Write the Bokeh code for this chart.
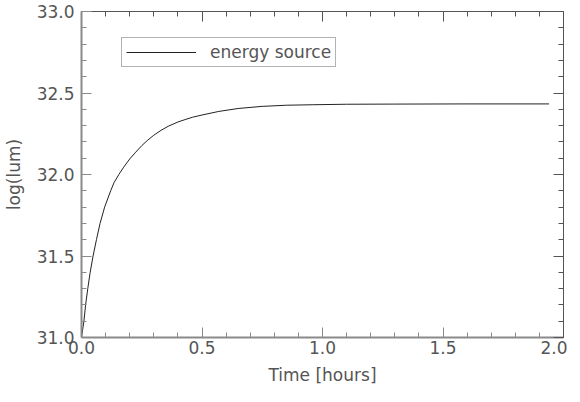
from bokeh.plotting import figure
from bokeh.models import LinearAxis, Legend, LegendItem, Range1d, FixedTicker, PrintfTickFormatter, CustomJSTickFormatter
from bokeh.embed import file_html
from bokeh.resources import INLINE

# data
time_hours = [0.0, 0.010, 0.017, 0.026, 0.036, 0.048, 0.062, 0.077, 0.096, 0.121,
              0.135, 0.155, 0.175, 0.20, 0.225, 0.25, 0.275, 0.30, 0.33, 0.36,
              0.40, 0.43, 0.46, 0.50, 0.57, 0.65, 0.75, 0.85, 0.96, 1.1,
              1.3, 1.6, 1.94]
log_lum = [31.0, 31.1, 31.2, 31.3, 31.4, 31.5, 31.6, 31.7, 31.8, 31.9,
           31.95, 32.0, 32.045, 32.095, 32.137, 32.177, 32.211, 32.241, 32.271, 32.296,
           32.322, 32.337, 32.351, 32.365, 32.387, 32.405, 32.418, 32.425, 32.428, 32.431,
           32.432, 32.433, 32.433]
x_ticks = [0.0, 0.5, 1.0, 1.5, 2.0]
y_ticks = [31.0, 31.5, 32.0, 32.5, 33.0]
x_minor = [i / 10 for i in range(21)]
y_minor = [31 + i / 10 for i in range(21)]
series_name = "energy source"

FONT = "DejaVu Sans"
TXT = "#555555"
AX = "#8a8a8a"

p = figure(frame_width=482, frame_height=326, output_backend="svg", toolbar_location=None,
           x_range=Range1d(0, 2), y_range=Range1d(31, 33),
           x_axis_label="Time [hours]", y_axis_label="log(lum)",
           min_border_top=11, min_border_right=4, min_border_left=79, min_border_bottom=20)
p.outline_line_color = None
p.xgrid.visible = False
p.ygrid.visible = False
p.background_fill_color = "white"
p.border_fill_color = "white"

r = p.line(time_hours, log_lum, line_color="#222222", line_width=1)

p.xaxis.ticker = FixedTicker(ticks=x_ticks, minor_ticks=x_minor)
p.yaxis.ticker = FixedTicker(ticks=y_ticks, minor_ticks=y_minor)
p.xaxis.formatter = PrintfTickFormatter(format="%.1f")
p.yaxis.formatter = PrintfTickFormatter(format="%.1f")

for ax in [p.xaxis[0], p.yaxis[0]]:
    ax.axis_line_color = AX
    ax.axis_line_width = 2
    ax.major_tick_line_color = AX
    ax.minor_tick_line_color = AX
    ax.major_tick_in = 10
    ax.major_tick_out = 0
    ax.minor_tick_in = 5
    ax.minor_tick_out = 0
    ax.major_label_text_font = FONT
    ax.major_label_text_font_size = "17px"
    ax.major_label_text_color = TXT
    ax.axis_label_text_font = FONT
    ax.axis_label_text_font_size = "17px"
    ax.axis_label_text_color = TXT
    ax.axis_label_text_font_style = "normal"

p.xaxis.major_label_standoff = 3
p.xaxis.axis_label_standoff = 8
p.yaxis.major_label_standoff = 7
p.yaxis.axis_label_standoff = 10

blank = CustomJSTickFormatter(code="return ''")
top = LinearAxis(ticker=FixedTicker(ticks=x_ticks, minor_ticks=x_minor), formatter=blank)
right = LinearAxis(ticker=FixedTicker(ticks=y_ticks, minor_ticks=y_minor), formatter=blank)
for ax in [top, right]:
    ax.axis_line_color = "#555555"
    ax.axis_line_width = 1
    ax.major_tick_line_color = "#555555"
    ax.minor_tick_line_color = "#555555"
    ax.major_tick_in = 10
    ax.major_tick_out = 0
    ax.minor_tick_in = 5
    ax.minor_tick_out = 0
    ax.major_label_standoff = 0
p.add_layout(top, "above")
p.add_layout(right, "right")

legend = Legend(items=[LegendItem(label=series_name, renderers=[r])],
                location=(40, 270), glyph_width=70, glyph_height=20,
                label_standoff=14, padding=4, margin=0, spacing=0,
                label_text_font=FONT, label_text_font_size="17px",
                label_text_color=TXT, border_line_color="#666666",
                border_line_width=1, background_fill_alpha=1)
p.add_layout(legend, "center")

open("out.html", "w").write(file_html(p, INLINE))
